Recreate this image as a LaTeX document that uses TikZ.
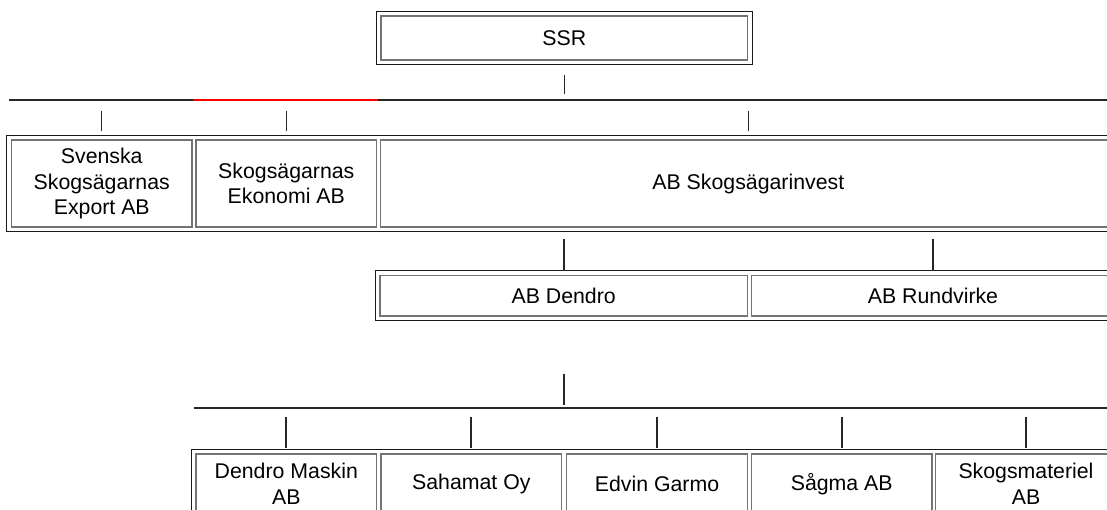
\documentclass[tikz,border=0pt]{standalone}
\usepackage{fontspec}
\setmainfont{Liberation Sans}
\usetikzlibrary{fit}

\tikzset{
  cell/.style={draw=black!55, line width=1.4pt, align=center, inner sep=0pt,
    font=\fontsize{21.3}{25.5}\selectfont},
  tableframe/.style={draw=black!90, line width=1.1pt, inner sep=4pt},
  thin line/.style={black!85, line width=1.3pt},
  thick line/.style={black!85, line width=2pt},
}

\begin{document}
\begin{tikzpicture}[x=1pt, y=-1pt]
        \useasboundingbox (0, 0) rectangle (1107, 509);
        \clip (0, 0) rectangle (1107, 509);
        \fill [white] (0, 0) rectangle (1107, 509);

        \coordinate (B1W) at (9.3, 100);
        \coordinate (B1E) at (1110, 100);
        \coordinate (B2W) at (194, 407.7);
        \coordinate (B2E) at (1110, 407.7);

        % top
        \node [cell, minimum width=366.5pt, minimum height=44pt] (SSR) at (564.25, 38) {SSR};
        \node [tableframe, fit=(SSR)] (SSRF) {};

        % first row
        \node [cell, minimum width=180.5pt, minimum height=87pt] (R1C1) at (101.75, 183.5) {Svenska\\Skogsägarnas\\Export AB};
        \node [cell, minimum width=180.7pt, minimum height=87pt] (R1C2) at (286.3, 183.5) {Skogsägarnas\\Ekonomi AB};
        \node [cell, minimum width=735.3pt, minimum height=87pt] (R1C3) at (748.3, 183.5) {AB Skogsägarinvest};
        \node [tableframe, fit=(R1C1)(R1C2)(R1C3)] (R1F) {};

        % second row
        \node [cell, minimum width=367.3pt, minimum height=40.7pt] (R2C1) at (563.7, 295.7) {AB Dendro};
        \node [cell, minimum width=362.6pt, minimum height=40.7pt] (R2C2) at (933, 295.7) {AB Rundvirke};
        \node [tableframe, fit=(R2C1)(R2C2)] (R2F) {};

        % third row
        \node [cell, minimum width=180.5pt, minimum height=60pt] (R3C1) at (286.3, 484) {Dendro Maskin\\AB};
        \node [cell, minimum width=180.5pt, minimum height=60pt] (R3C2) at (471.3, 484) {Sahamat Oy};
        \node [cell, minimum width=180.5pt, minimum height=60pt] (R3C3) at (657, 484) {Edvin Garmo};
        \node [cell, minimum width=180.5pt, minimum height=60pt] (R3C4) at (841.7, 484) {Sågma AB};
        \node [cell, minimum width=180.5pt, minimum height=60pt] (R3C5) at (1026, 484) {Skogsmateriel\\AB};
        \node [tableframe, fit=(R3C1)(R3C2)(R3C3)(R3C4)(R3C5)] (R3F) {};

        % connectors
        \draw [thin line] ([yshift=-10pt]SSRF.south) -- ([yshift=-29pt]SSRF.south);
        \draw [thin line] (B1W) -- (B1E);
        \draw [thin line, red] ([xshift=-2pt]R1C2.west |- B1W) -- ([xshift=-2pt]R1C3.west |- B1W);
        \draw [thin line] ([yshift=8pt]R1C1.north) -- ([yshift=28pt]R1C1.north);
        \draw [thin line] ([yshift=8pt]R1C2.north) -- ([yshift=28pt]R1C2.north);
        \draw [thin line] ([yshift=8pt]R1C3.north) -- ([yshift=28pt]R1C3.north);

        \draw [thick line] ([yshift=4pt]R2C1.north) -- ([yshift=36pt]R2C1.north);
        \draw [thick line] ([yshift=4pt]R2C2.north) -- ([yshift=36pt]R2C2.north);

        \draw [thick line] ([yshift=-57pt]R2C1.south) -- ([yshift=-88pt]R2C1.south);
        \draw [thick line] (B2W) -- (B2E);
        \draw [thick line] ([yshift=5.5pt]R3C1.north) -- ([yshift=36.5pt]R3C1.north);
        \draw [thick line] ([yshift=5.5pt]R3C2.north) -- ([yshift=36.5pt]R3C2.north);
        \draw [thick line] ([yshift=5.5pt]R3C3.north) -- ([yshift=36.5pt]R3C3.north);
        \draw [thick line] ([yshift=5.5pt]R3C4.north) -- ([yshift=36.5pt]R3C4.north);
        \draw [thick line] ([yshift=5.5pt]R3C5.north) -- ([yshift=36.5pt]R3C5.north);
\end{tikzpicture}
\end{document}
